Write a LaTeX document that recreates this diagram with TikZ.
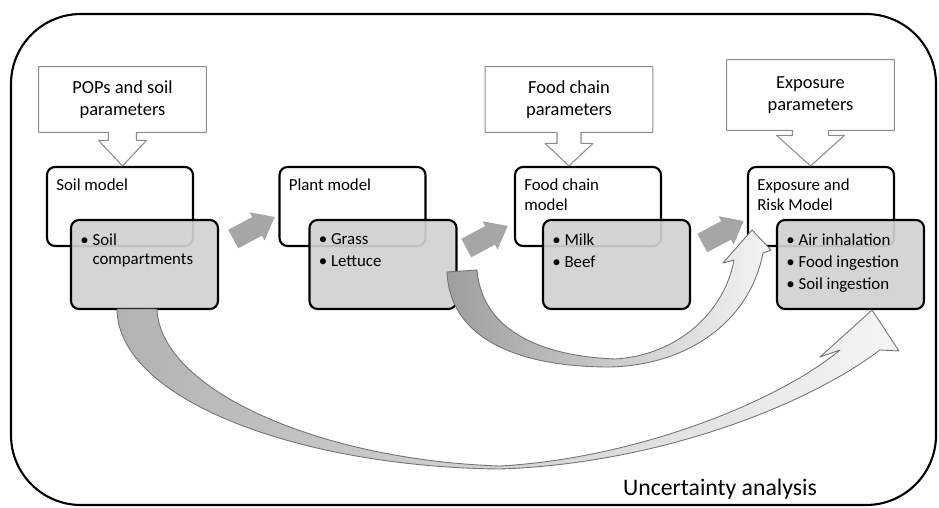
\documentclass[tikz,border=0pt]{standalone}
\usepackage{fontspec}
\setmainfont{Carlito}
\usetikzlibrary{calc}

\begin{document}
\begin{tikzpicture}[x=0.02cm, y=-0.02cm, line join=round,
  paramline/.style={draw=black!45, line width=0.6pt},
  paramtext/.style={font=\fontsize{10.5}{12.5}\selectfont, align=center, minimum width=3.34cm, minimum height=1.3cm, inner sep=0pt},
  modelbox/.style={draw=black, line width=1.2pt, rounded corners=0.16cm, fill=white, minimum width=2.92cm, minimum height=1.58cm},
  itembox/.style={draw=black, line width=1.2pt, rounded corners=0.16cm, fill=black!18, fill opacity=0.92, minimum width=2.94cm, minimum height=1.78cm},
  boxtitle/.style={font=\fontsize{9.6}{11.5}\selectfont, align=left, anchor=north west, inner sep=0pt},
  itemlist/.style={font=\fontsize{9.6}{11.3}\selectfont, align=left, anchor=north west, inner sep=0pt},
  flowfill/.style={fill=black!35},
  bigarrow/.style={right color=black!4, draw=black!55, line width=0.5pt}
]

\useasboundingbox (0,0) rectangle (939,507);

% frame round the whole chain
\draw[line width=1.2pt, rounded corners=1.4cm] (11,14) rectangle (936,505);

% model boxes
\node[modelbox] (soilm) at (120,206.5) {};
\node[modelbox] (plantm) at (352.5,206.5) {};
\node[modelbox] (foodm) at (588,206.5) {};
\node[modelbox] (expom) at (821,206.5) {};
\node[boxtitle] (soilt) at ($(soilm.north west)+(10,12)$) {Soil model};
\node[boxtitle] (plantt) at ($(plantm.north west)+(10,12)$) {Plant model};
\node[boxtitle] (foodt) at ($(foodm.north west)+(10,12)$) {Food chain\\model};
\node[boxtitle] (expot) at ($(expom.north west)+(10,12)$) {Exposure and\\Risk Model};

% parameter callouts
\node[paramtext] (popsp) at (122.5,99.5) {POPs and soil\\parameters};
\node[paramtext] (foodp) at (569,99.5) {Food chain\\parameters};
\node[paramtext, minimum height=1.4cm] (expop) at (810.5,95) {Exposure\\parameters};
\foreach \p/\m/\s/\h/\l in {popsp/soilm/14/24/8, foodp/foodm/12/24/11, expop/expom/18/34/5} {
  \draw[paramline] (\p.south west) -- (\p.north west) -- (\p.north east) -- (\p.south east)
    -- ($(\p.south)+(\s,0)$) -- ($(\p.south)+(\s,\l)$) -- ($(\p.south)+(\h,\l)$)
    -- (\p.south |- \m.north)
    -- ($(\p.south)+(-\h,\l)$) -- ($(\p.south)+(-\s,\l)$) -- ($(\p.south)+(-\s,0)$) -- cycle;
}

% content boxes
\node[itembox] (soilg) at (144.5,264.5) {};
\node[itembox] (plantg) at (383,264.5) {};
\node[itembox] (foodg) at (616.5,264.5) {};
\node[itembox] (expog) at (850.5,264.5) {};
\node[itemlist] (soill) at ($(soilg.north west)+(10,14)$) {\textbullet\ Soil\\\phantom{\textbullet\ }compartments};
\node[itemlist] (plantl) at ($(plantg.north west)+(10,14)$) {\textbullet\ Grass\\[1.5pt]\textbullet\ Lettuce};
\node[itemlist] (foodl) at ($(foodg.north west)+(10,14)$) {\textbullet\ Milk\\[1.5pt]\textbullet\ Beef};
\node[itemlist] (expol) at ($(expog.north west)+(10,14)$) {\textbullet\ Air inhalation\\[1.5pt]\textbullet\ Food ingestion\\[1.5pt]\textbullet\ Soil ingestion};

% flow between the models
\foreach \c in {(254,228), (487,237), (723,232)}
  \fill[flowfill, shift={\c}, rotate=28] (-23.5,-10.5) -- (3.5,-10.5) -- (3.5,-16) -- (23.5,0)
    -- (3.5,16) -- (3.5,10.5) -- (-23.5,10.5) -- cycle;

% plant to exposure
\draw[bigarrow, left color=black!38] (447,272) .. controls (450,340) and (520,367) .. (610,367)
  .. controls (690,365) and (750,320) .. (763,253) -- (771,250) -- (752,230) -- (723,263) -- (734,260)
  .. controls (725,310) and (680,355) .. (615,359) .. controls (540,356) and (482,330) .. (477,270) -- cycle;

% soil to exposure
\draw[bigarrow, left color=black!30] (117,309) .. controls (118,400) and (300,467) .. (500,469)
  .. controls (650,464) and (800,410) .. (880,350) -- (899,351) -- (872,310) -- (820,357) -- (840,350)
  .. controls (780,400) and (640,458) .. (500,466) .. controls (320,460) and (160,390) .. (157,309) -- cycle;

\node[font=\fontsize{13.5}{16}\selectfont, anchor=base] (ua) at (720,495) {Uncertainty analysis};

\end{tikzpicture}
\end{document}
